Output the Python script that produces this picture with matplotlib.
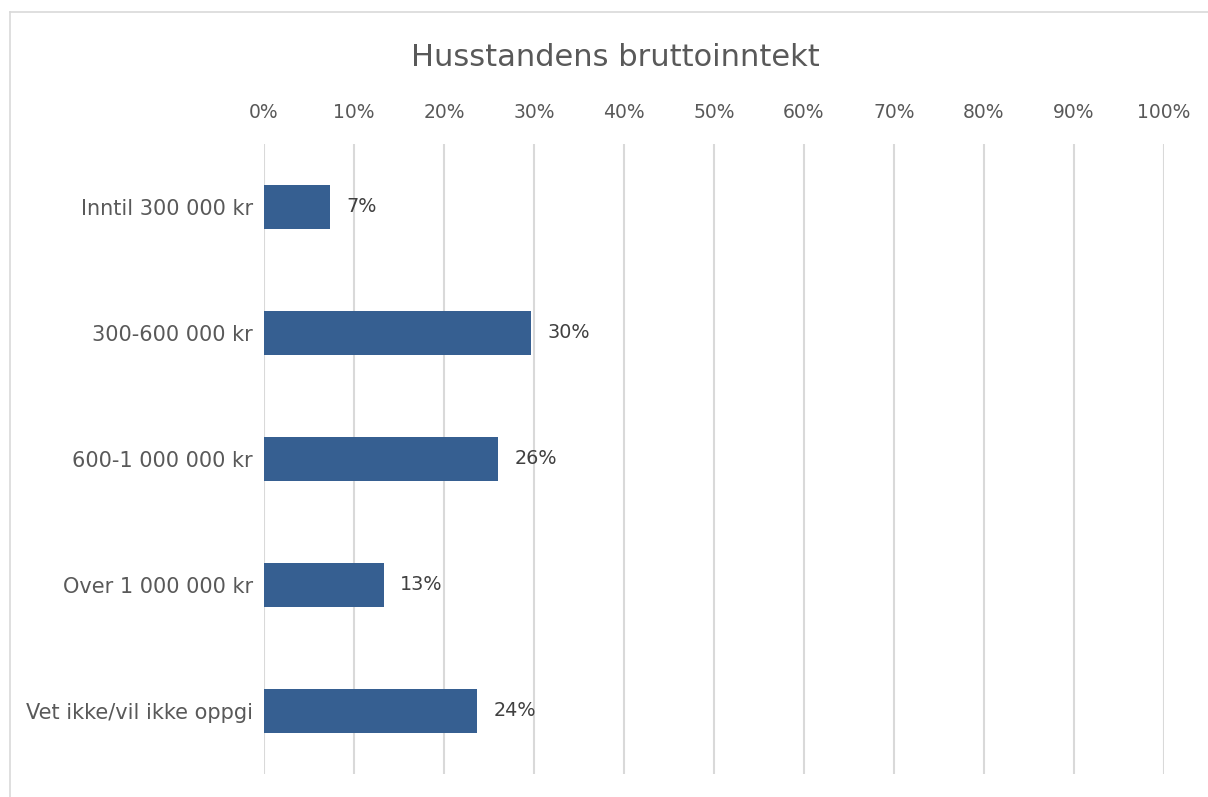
import matplotlib
matplotlib.use("Agg")
import matplotlib.pyplot as plt
from matplotlib.lines import Line2D

categories = ["Inntil 300 000 kr", "300-600 000 kr", "600-1 000 000 kr",
              "Over 1 000 000 kr", "Vet ikke/vil ikke oppgi"]
values = [7.3, 29.7, 26.0, 13.3, 23.7]
labels = ["7%", "30%", "26%", "13%", "24%"]
ticks = list(range(0, 101, 10))
tick_labels = [f"{t}%" for t in ticks]

plt.rcParams["font.family"] = ["DejaVu Sans"]

fig = plt.figure(figsize=(12.08, 7.97), dpi=100)
ax = fig.add_axes([264 / 1208, 1 - 774 / 797, 900 / 1208, 630 / 797])

y = list(range(len(categories)))
ax.barh(y, values, height=0.35, color="#365F91", zorder=3)
for yi, v, lab in zip(y, values, labels):
    ax.text(v + 1.8, yi, lab, va="center", ha="left", fontsize=13.8, color="#404040")

ax.set_xlim(0, 100)
ax.set_ylim(len(categories) - 0.5, -0.5)
ax.set_xticks(ticks)
ax.set_xticklabels(tick_labels)
ax.set_yticks(y)
ax.set_yticklabels(categories)
ax.xaxis.tick_top()
ax.tick_params(axis="x", length=0, pad=16, labelsize=13.5, labelcolor="#595959")
ax.tick_params(axis="y", length=0, pad=8, labelsize=15, labelcolor="#595959")
ax.grid(axis="x", color="#D9D9D9", lw=1.5, zorder=0)
for s in ax.spines.values():
    s.set_visible(False)

fig.text(615 / 1208, 1 - 58 / 797, "Husstandens bruttoinntekt", ha="center",
         va="center", fontsize=22, color="#595959")

# chart-area border (left and top edges visible)
fig.add_artist(Line2D([10 / 1208, 10 / 1208], [0, 1 - 12 / 797],
                      transform=fig.transFigure, color="#D9D9D9", lw=1.2))
fig.add_artist(Line2D([10 / 1208, 1], [1 - 12 / 797, 1 - 12 / 797],
                      transform=fig.transFigure, color="#D9D9D9", lw=1.2))

fig.savefig("out.png", dpi=100)
